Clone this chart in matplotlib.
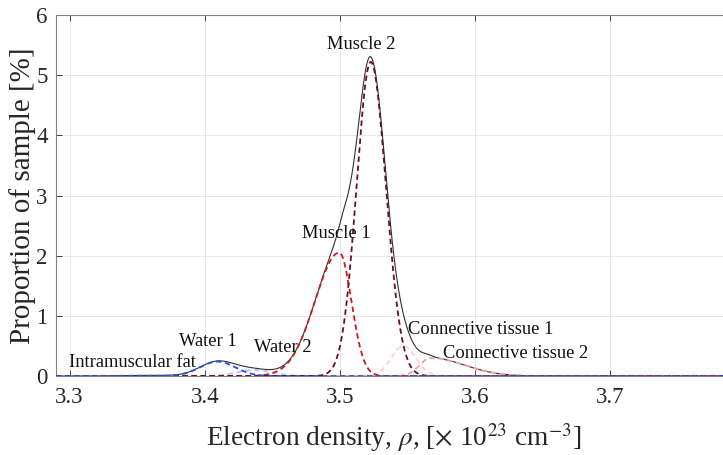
import numpy as np
import matplotlib
matplotlib.use("Agg")
import matplotlib.pyplot as plt

plt.rcParams['font.family'] = ['Liberation Serif', 'DejaVu Serif']
plt.rcParams['mathtext.fontset'] = 'stix'

# Fitted component parameters
components = ['Intramuscular fat', 'Water 1', 'Water 2', 'Muscle 1', 'Muscle 2',
              'Connective tissue 1', 'Connective tissue 2']
centers = [3.360, 3.4095, 3.437, 3.4995, 3.5228, 3.547, 3.567]
amplitudes = [0.01, 0.24, 0.10, 2.05, 5.22, 0.50, 0.30]
sigma_left = [0.020, 0.013, 0.013, 0.018, 0.0105, 0.009, 0.008]
sigma_right = [0.020, 0.013, 0.013, 0.0090, 0.0112, 0.009, 0.025]
colors = ['#a8a8b8', '#1f4ff0', '#b8c8f0', '#d01818', '#6a0f1c', '#ffd0d0', '#f4a0a0']

label_x = [3.2995, 3.402, 3.4575, 3.497, 3.516, 3.6043, 3.6298]
label_y = [0.22, 0.58, 0.48, 2.375, 5.51, 0.77, 0.375]

xticks = [3.3, 3.4, 3.5, 3.6, 3.7]
yticks = [0, 1, 2, 3, 4, 5, 6]

x = np.linspace(3.29, 3.79, 2000)

def comp(i):
    s = np.where(x < centers[i], sigma_left[i], sigma_right[i])
    return amplitudes[i] * np.exp(-0.5 * ((x - centers[i]) / s) ** 2)

curves = [comp(i) for i in range(len(components))]
total = np.sum(curves, axis=0)

fig = plt.figure(figsize=(7.23, 4.55), dpi=100)
ax = fig.add_axes([0.0775, 0.1736, 0.935, 0.7934])

ax.plot(x, total, color='#303030', lw=0.8, zorder=3)
order = [0, 2, 5, 6, 3, 4, 1]
for i in order:
    ax.plot(x, curves[i], color=colors[i], lw=1.3, ls=(0, (3, 2)), zorder=4)

for i, name in enumerate(components):
    ax.text(label_x[i], label_y[i], name, ha='center' if i else 'left', va='center',
            fontsize=13.3, color='#111111', zorder=5)

ax.set_xlim(3.29, 3.79)
ax.set_ylim(0, 6)
ax.set_xticks(xticks)
ax.set_yticks(yticks)
ax.set_xticklabels([f'{t:.1f}' for t in xticks])
ax.tick_params(direction='in', labelsize=16.5, colors='#262626', top=True, length=4,
               width=0.6)
ax.tick_params(axis='x', pad=8)
ax.tick_params(axis='y', pad=6)
ax.grid(True, color='#e4e4e4', lw=0.6)
ax.set_axisbelow(True)
for sp in ['left', 'top', 'bottom']:
    ax.spines[sp].set_color('#808080')
    ax.spines[sp].set_linewidth(0.8)
ax.spines['right'].set_visible(False)

ax.set_xlabel(r'Electron density, $\rho$, [$\times$ 10$^{23}$ cm$^{-3}$]', fontsize=19.7,
              color='#262626', labelpad=9)
ax.set_ylabel('Proportion of sample [%]', fontsize=21, color='#262626', labelpad=0)

fig.savefig('out.png', dpi=100)
